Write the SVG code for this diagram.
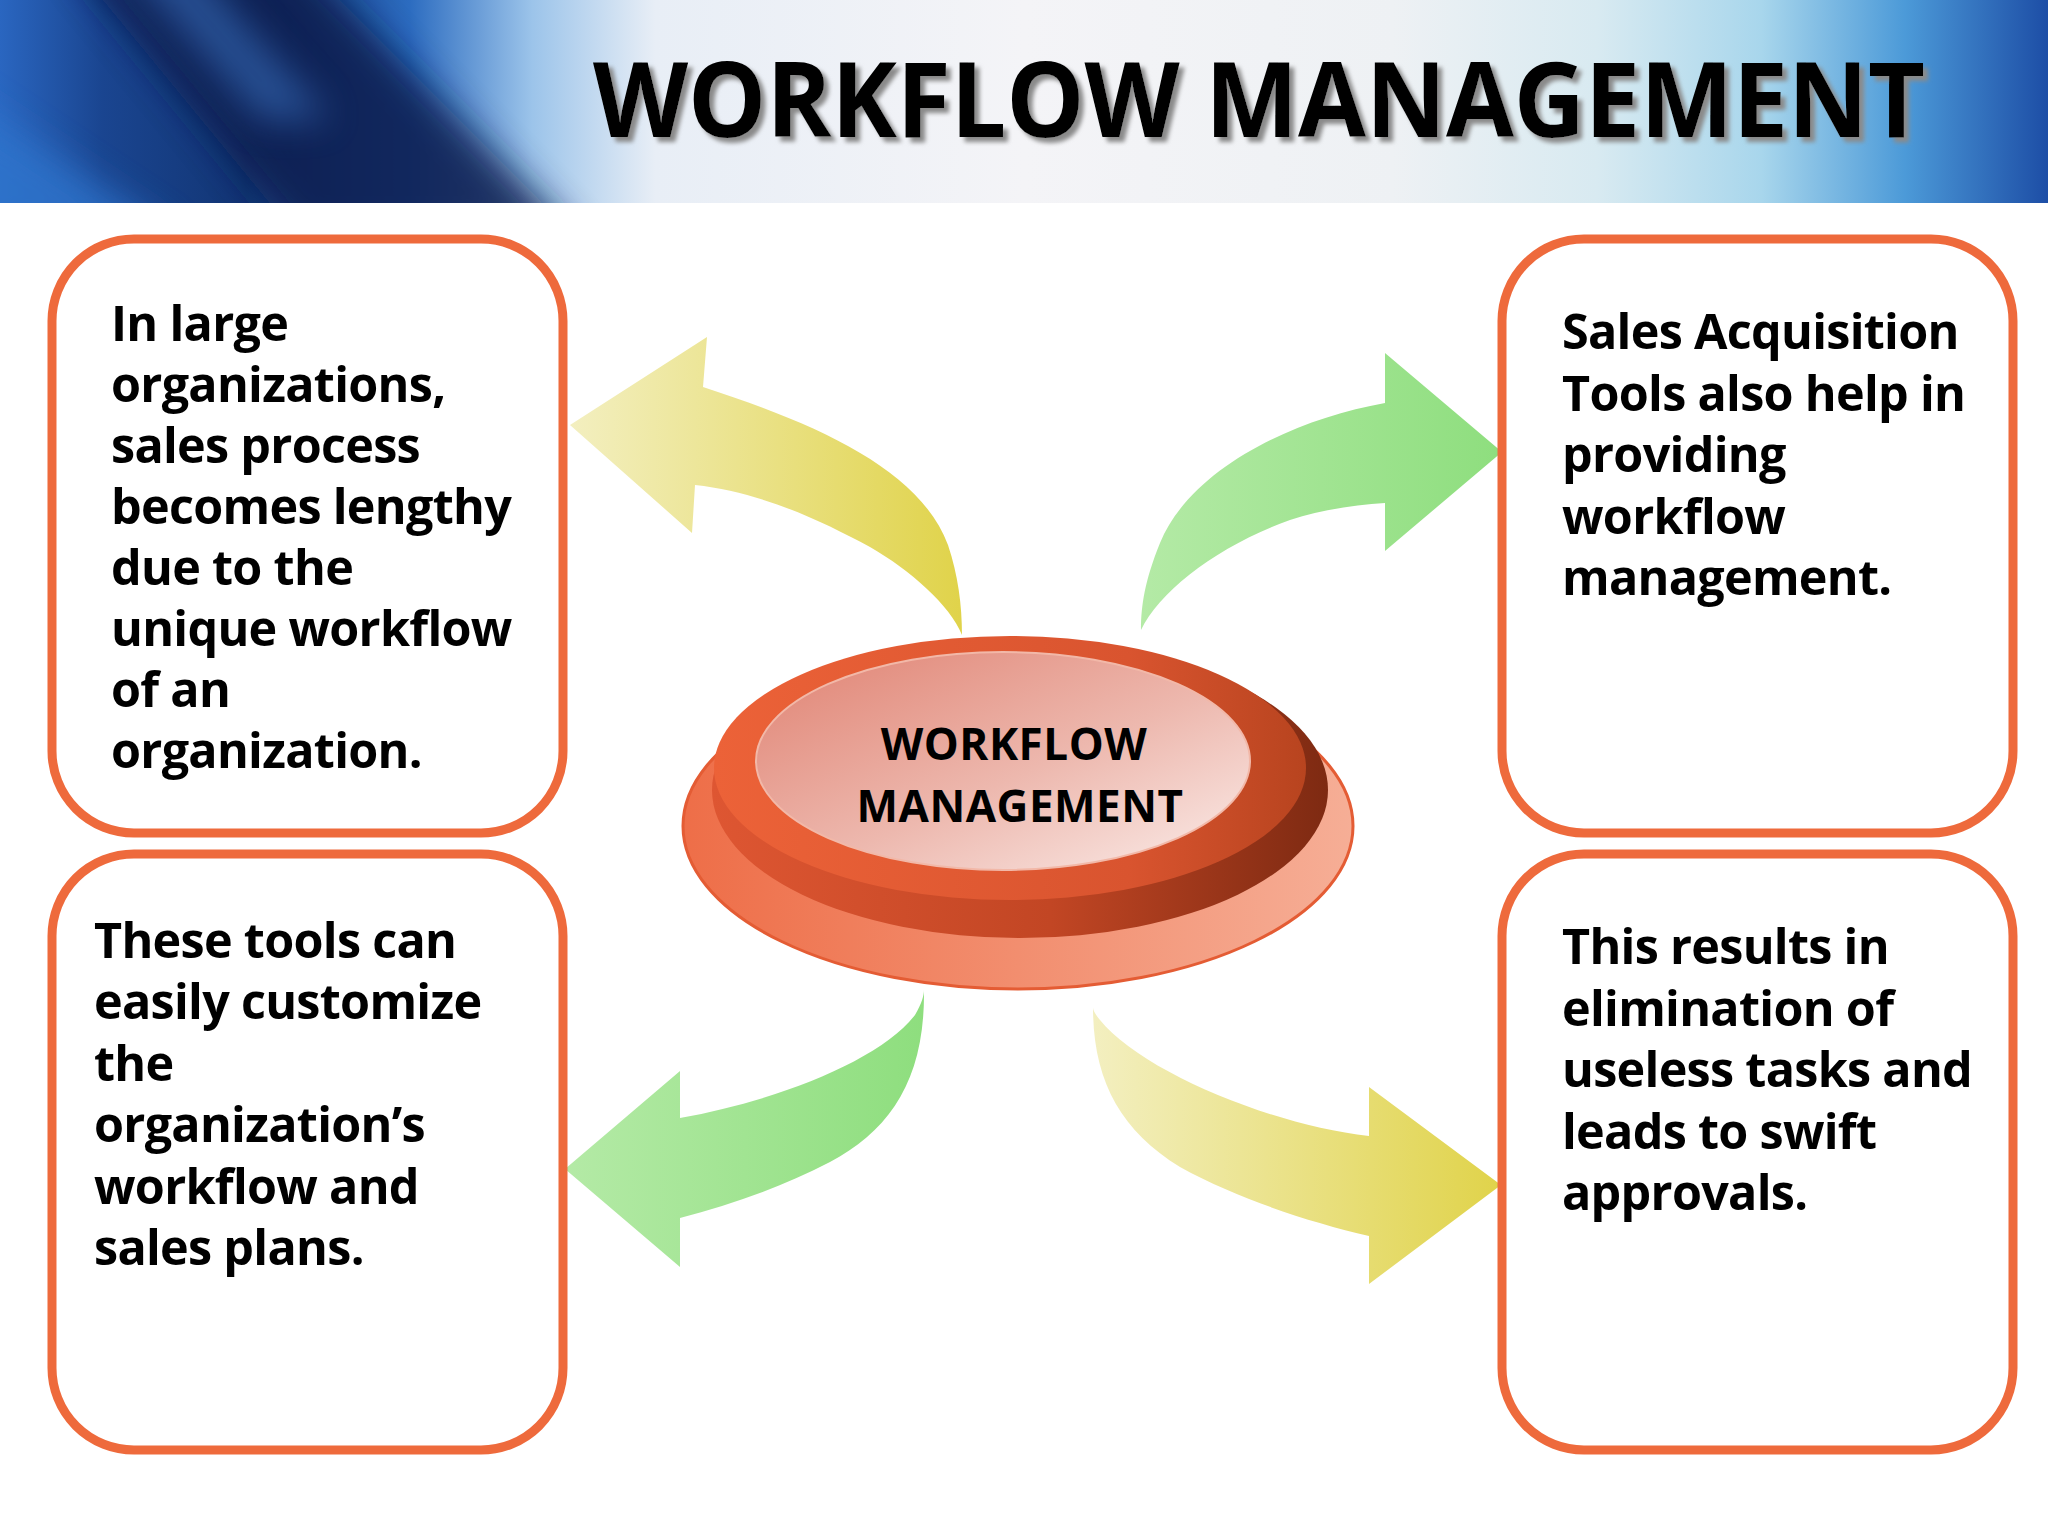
<svg xmlns="http://www.w3.org/2000/svg" width="2048" height="1536" viewBox="0 0 2048 1536">
<defs>
<style>
.box{fill:#fff;stroke:#EE6A3C;stroke-width:9}
.txt{font-family:"Open Sans","Noto Sans","Liberation Sans",sans-serif;font-weight:700;font-size:48.5px;letter-spacing:-0.7px;fill:#000}
.ctr{font-family:"Open Sans","Noto Sans","Liberation Sans",sans-serif;font-weight:700;font-size:44px;letter-spacing:0.5px;fill:#000;text-anchor:middle}
.ttl{font-family:"Open Sans","Noto Sans","Liberation Sans",sans-serif;font-weight:700;font-size:104px}
</style>
<linearGradient id="hdr" x1="0" y1="0" x2="1" y2="0">
<stop offset="0" stop-color="#2a66c0"/>
<stop offset="0.05" stop-color="#1a4590"/>
<stop offset="0.12" stop-color="#123574"/>
<stop offset="0.2" stop-color="#2c6cc0"/>
<stop offset="0.26" stop-color="#9cc4ea"/>
<stop offset="0.32" stop-color="#e8eef6"/>
<stop offset="0.5" stop-color="#f4f4f7"/>
<stop offset="0.68" stop-color="#eef1f4"/>
<stop offset="0.78" stop-color="#d8eaf1"/>
<stop offset="0.86" stop-color="#a8d6ec"/>
<stop offset="0.93" stop-color="#4c9ad8"/>
<stop offset="1" stop-color="#1d4ea6"/>
</linearGradient>
<filter id="blur20" x="-50%" y="-50%" width="200%" height="200%"><feGaussianBlur stdDeviation="18"/></filter>
<filter id="shadow" x="-5%" y="-20%" width="110%" height="140%"><feDropShadow dx="5" dy="5" stdDeviation="2" flood-color="#8a8a8a" flood-opacity="1"/></filter>
<clipPath id="hclip"><rect x="0" y="0" width="2048" height="203"/></clipPath>
<linearGradient id="yel" x1="0" y1="0" x2="1" y2="0">
<stop offset="0" stop-color="#F3EFC0"/>
<stop offset="1" stop-color="#E0D34A"/>
</linearGradient>
<linearGradient id="grn" x1="0" y1="0" x2="1" y2="0">
<stop offset="0" stop-color="#B4EAA6"/>
<stop offset="1" stop-color="#8EDE7E"/>
</linearGradient>
<linearGradient id="base" x1="0" y1="0" x2="1" y2="0">
<stop offset="0" stop-color="#EE6E48"/>
<stop offset="1" stop-color="#F6AE96"/>
</linearGradient>
<linearGradient id="wall" x1="0" y1="0" x2="1" y2="0">
<stop offset="0" stop-color="#DE5632"/>
<stop offset="0.55" stop-color="#C24624"/>
<stop offset="1" stop-color="#7E2A12"/>
</linearGradient>
<linearGradient id="rim" x1="0" y1="0" x2="1" y2="0">
<stop offset="0" stop-color="#EC6238"/>
<stop offset="0.7" stop-color="#D9542F"/>
<stop offset="1" stop-color="#B8441F"/>
</linearGradient>
<linearGradient id="face" x1="0" y1="0" x2="1" y2="1">
<stop offset="0" stop-color="#E08272"/>
<stop offset="0.55" stop-color="#EDB8AE"/>
<stop offset="1" stop-color="#FBEDEA"/>
</linearGradient>
</defs>

<rect x="0" y="0" width="2048" height="1536" fill="#ffffff"/>

<g id="header">
<rect x="0" y="0" width="2048" height="203" fill="url(#hdr)"/>
<g clip-path="url(#hclip)">
<polygon points="70,-40 300,-40 580,240 300,240" fill="#0a1e4e" opacity="0.85" filter="url(#blur20)"/>
<polygon points="-60,80 180,240 -60,240" fill="#2f74cc" opacity="0.8" filter="url(#blur20)"/>
<polygon points="120,-40 190,-40 330,120 260,120" fill="#3f7ed0" opacity="0.5" filter="url(#blur20)"/>
</g>
<text class="ttl" x="593" y="137" fill="#000" textLength="1332" lengthAdjust="spacingAndGlyphs" filter="url(#shadow)">WORKFLOW MANAGEMENT</text>
</g>

<g id="connectors">
<path d="M570 425 L707 337 L703 387 C820 425 920 470 948 545 C958 575 962 605 962 635 C950 605 910 570 870 547 C820 520 760 492 695 485 L692 533 Z" fill="url(#yel)"/>
<path d="M1502 452 L1385 353 L1385 403 C1290 420 1190 470 1160 543 C1145 580 1141 605 1141 630 C1160 590 1220 545 1290 520 C1320 510 1355 505 1385 503 L1385 551 Z" fill="url(#grn)"/>
<path d="M565 1169 L680 1071 L680 1118 C780 1100 880 1060 915 1015 C922 1003 924 995 924 990 C925 1080 890 1130 830 1162 C780 1188 730 1205 680 1218 L680 1267 Z" fill="url(#grn)"/>
<path d="M1501 1185 L1369 1087 L1369 1136 C1270 1125 1140 1070 1100 1020 C1095 1014 1093 1010 1093 1007 C1093 1080 1120 1130 1180 1167 C1240 1200 1310 1222 1369 1236 L1369 1284 Z" fill="url(#yel)"/>
</g>

<g id="center">
<ellipse cx="1018" cy="826" rx="335" ry="163" fill="url(#base)" stroke="#E45C34" stroke-width="3"/>
<ellipse cx="1020" cy="790" rx="308" ry="148" fill="url(#wall)"/>
<ellipse cx="1010" cy="768" rx="296" ry="132" fill="url(#rim)"/>
<ellipse cx="1003" cy="761" rx="247" ry="109" fill="url(#face)" stroke="#F2B8A8" stroke-width="2"/>
<text class="ctr" x="1014" y="760">WORKFLOW</text>
<text class="ctr" x="1020" y="822">MANAGEMENT</text>
</g>

<g id="box-tl">
<rect class="box" x="52" y="239" width="511" height="594" rx="82" ry="82"/>
<text class="txt">
<tspan x="111" y="341">In large</tspan>
<tspan x="111" y="402">organizations,</tspan>
<tspan x="111" y="463">sales process</tspan>
<tspan x="111" y="524">becomes lengthy</tspan>
<tspan x="111" y="585">due to the</tspan>
<tspan x="111" y="646">unique workflow</tspan>
<tspan x="111" y="707">of an</tspan>
<tspan x="111" y="768">organization.</tspan>
</text>
</g>

<g id="box-tr">
<rect class="box" x="1502" y="239" width="511" height="594" rx="82" ry="82"/>
<text class="txt">
<tspan x="1562" y="349">Sales Acquisition</tspan>
<tspan x="1562" y="411">Tools also help in</tspan>
<tspan x="1562" y="472">providing</tspan>
<tspan x="1562" y="534">workflow</tspan>
<tspan x="1562" y="595">management.</tspan>
</text>
</g>

<g id="box-bl">
<rect class="box" x="52" y="854" width="511" height="596" rx="82" ry="82"/>
<text class="txt">
<tspan x="94" y="958">These tools can</tspan>
<tspan x="94" y="1019">easily customize</tspan>
<tspan x="94" y="1081">the</tspan>
<tspan x="94" y="1142">organization’s</tspan>
<tspan x="94" y="1204">workflow and</tspan>
<tspan x="94" y="1265">sales plans.</tspan>
</text>
</g>

<g id="box-br">
<rect class="box" x="1502" y="854" width="511" height="596" rx="82" ry="82"/>
<text class="txt">
<tspan x="1562" y="964">This results in</tspan>
<tspan x="1562" y="1026">elimination of</tspan>
<tspan x="1562" y="1087">useless tasks and</tspan>
<tspan x="1562" y="1149">leads to swift</tspan>
<tspan x="1562" y="1210">approvals.</tspan>
</text>
</g>
</svg>
